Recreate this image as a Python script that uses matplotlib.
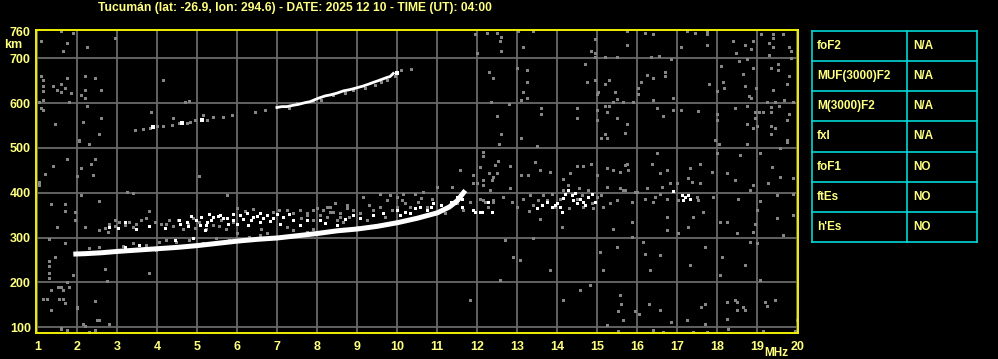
import numpy as np
import matplotlib.pyplot as plt

# Ionogram - Tucuman, 2025-12-10 04:00 UT
title = 'Tucumán (lat: -26.9, lon: 294.6) - DATE: 2025 12 10 - TIME (UT): 04:00'
freq_ticks = list(range(1, 21))
height_ticks = [100, 200, 300, 400, 500, 600, 700, 760]

# main O trace (freq MHz, virtual height km)
o_trace = [(1.9, 263), (2.2, 264), (2.6, 266), (3.0, 269), (3.5, 272), (4.0, 275),
           (4.5, 278), (5.0, 282), (5.5, 287), (6.0, 292), (6.5, 296), (7.0, 299),
           (7.5, 304), (8.0, 309), (8.5, 315), (9.0, 319), (9.5, 325), (10.0, 333),
           (10.5, 343), (11.0, 355), (11.3, 368), (11.5, 382), (11.7, 405)]

# second hop trace, bright part
hop2_white = [(6.99, 590), (7.11, 592), (7.24, 592), (7.4, 595), (7.53, 597), (7.7, 601),
              (7.82, 603), (7.95, 608), (8.07, 612), (8.2, 616), (8.32, 618), (8.49, 622),
              (8.65, 627), (8.82, 630), (8.99, 634), (9.15, 638), (9.28, 642), (9.4, 646),
              (9.53, 650), (9.65, 654), (9.74, 657), (9.82, 659), (9.9, 666)]
# second hop, faint dots
hop2_gray = [(3.45, 540), (3.65, 542), (3.82, 545), (3.99, 549), (4.15, 549), (4.36, 552),
             (4.4, 566), (4.53, 555), (4.74, 556), (4.82, 558), (4.95, 562), (5.24, 563),
             (5.15, 573), (5.4, 568), (5.65, 569), (5.86, 573), (4.7, 603), (4.78, 605),
             (6.45, 581), (6.7, 584), (7.49, 599), (7.9, 604), (8.4, 619), (8.9, 628),
             (9.6, 648), (9.95, 660), (10.1, 674), (10.35, 677), (3.84, 581), (4.14, 651),
             (7.3, 590), (8.1, 607), (8.7, 623), (9.2, 634), (9.45, 641), (9.75, 652)]
hop2_spots = [(3.9, 547), (4.61, 555), (5.11, 562), (10.0, 667)]

# spread echoes around the F trace
spread_white = [(2.79, 324), (3.01, 322), (3.18, 335), (3.47, 318), (4.55, 339), (4.76, 325),
                (4.97, 339), (5.1, 345), (5.22, 328), (5.35, 339), (5.51, 348), (5.64, 343),
                (5.76, 331), (5.89, 340), (5.18, 317), (3.18, 279), (3.55, 283), (4.43, 294),
                (4.89, 298), (5.47, 287), (5.76, 290), (6.07, 350), (6.24, 354), (6.4, 346),
                (6.57, 355), (6.74, 350), (6.9, 343), (7.07, 331), (6.57, 335), (6.28, 328),
                (7.4, 339), (7.57, 328), (8.07, 339), (8.49, 328), (8.9, 350), (5.4, 346),
                (5.57, 350), (5.74, 343), (5.24, 335), (5.07, 328), (4.74, 335), (4.57, 331),
                (9.07, 343), (9.4, 350), (9.65, 354), (9.99, 361), (10.07, 350), (10.32, 354),
                (10.57, 369), (10.74, 361), (10.9, 376), (11.24, 369), (11.45, 376), (11.61, 369),
                (11.49, 391), (11.61, 387), (12.11, 357), (11.95, 357), (11.9, 361), (12.07, 357),
                (12.28, 380), (12.36, 357), (13.49, 365), (13.61, 372), (13.74, 380), (13.86, 369),
                (13.95, 372), (14.07, 369), (14.11, 357), (14.2, 398), (14.28, 406), (14.36, 395),
                (14.4, 383), (14.49, 376), (14.57, 387), (14.65, 380), (14.78, 391), (14.86, 398),
                (14.95, 380), (16.9, 404), (17.11, 395), (17.2, 391), (17.15, 383), (17.32, 387),
                (17.28, 395), (6.15, 342), (6.5, 348), (6.82, 337), (7.15, 345), (7.3, 352),
                (5.9, 352), (6.0, 330), (6.35, 340), (6.65, 344), (7.0, 352), (5.3, 352),
                (4.85, 347), (7.75, 340), (8.2, 333), (8.7, 342), (3.8, 325), (4.2, 322),
                (10.2, 358), (10.45, 365), (10.85, 368), (11.1, 372), (11.35, 380), (14.0, 378),
                (14.15, 388), (14.45, 400), (14.7, 372)]
spread_gray = [(2.68, 322), (2.8, 331), (2.93, 325), (3.05, 335), (3.18, 328), (3.3, 335),
               (3.39, 324), (3.47, 331), (2.76, 313), (3.72, 343), (3.93, 335), (4.1, 331),
               (4.22, 331), (4.39, 325), (4.51, 339), (4.64, 320), (4.76, 331), (4.89, 343),
               (5.05, 335), (5.22, 320), (5.39, 328), (5.6, 339), (5.72, 320), (5.89, 335),
               (2.3, 276), (2.55, 279), (3.14, 281), (3.39, 287), (3.72, 283), (4.05, 290),
               (4.22, 294), (4.47, 290), (4.8, 294), (5.14, 287), (5.47, 298), (5.8, 294),
               (3.97, 272), (5.99, 365), (6.4, 363), (6.9, 357), (7.24, 361), (7.4, 354),
               (7.74, 350), (7.9, 339), (8.24, 346), (8.32, 357), (8.57, 354), (8.74, 365),
               (8.9, 361), (8.65, 335), (8.99, 324), (7.4, 317), (7.74, 313), (6.74, 309),
               (6.57, 305), (5.99, 309), (7.24, 324), (8.32, 369), (8.45, 376), (7.99, 365),
               (7.57, 361), (7.74, 354), (7.9, 361), (8.07, 350), (8.24, 369), (8.4, 357),
               (8.57, 346), (8.74, 372), (8.9, 361), (9.07, 354), (9.24, 339), (9.4, 361),
               (9.57, 369), (9.74, 384), (9.86, 361), (9.99, 369), (10.11, 384), (10.2, 376),
               (10.32, 369), (10.45, 398), (10.53, 380), (10.65, 402), (10.74, 369), (10.86, 387),
               (10.99, 413), (11.07, 361), (11.2, 354), (11.36, 413), (11.49, 376), (11.65, 361),
               (11.82, 380), (11.9, 439), (11.99, 421), (12.15, 383), (12.28, 369), (12.36, 428),
               (12.4, 383), (12.49, 443), (12.07, 458), (11.57, 450), (9.57, 398), (9.82, 395),
               (10.15, 398), (9.15, 391), (11.9, 421), (12.15, 417), (12.32, 406), (12.07, 387),
               (12.2, 380), (12.4, 380), (12.65, 391), (12.82, 410), (12.86, 380), (12.99, 369),
               (13.15, 387), (13.32, 395), (13.4, 372), (13.53, 383), (13.74, 383), (13.86, 398),
               (13.95, 369), (14.07, 387), (14.15, 406), (14.28, 417), (14.36, 398), (14.49, 387),
               (14.61, 395), (14.65, 369), (14.78, 406), (14.86, 376), (14.99, 391), (15.15, 369),
               (15.32, 376), (15.49, 383), (15.7, 406), (15.86, 380), (15.99, 402), (17.03, 383),
               (17.49, 391), (17.53, 383), (17.89, 391), (16.57, 398), (16.74, 387), (16.45, 391),
               (16.4, 380), (16.2, 387), (15.95, 402), (15.86, 380), (15.65, 406), (16.24, 410),
               (16.61, 413), (16.82, 421), (16.99, 421), (17.28, 432), (17.36, 424), (17.57, 421),
               (4.3, 338), (4.95, 322), (5.55, 326), (6.2, 360), (6.6, 320), (7.05, 362),
               (7.6, 344), (8.15, 362), (8.8, 345), (3.6, 338), (2.95, 340), (6.3, 301),
               (7.9, 318), (8.5, 340), (9.3, 372), (9.7, 345), (10.0, 390), (10.6, 388),
               (13.3, 360), (13.65, 395), (14.3, 365), (14.55, 410), (14.9, 365), (15.1, 395)]

# scattered interference dots
noise = [(11.95, 753), (12.24, 756), (12.49, 756), (12.59, 747), (12.57, 738), (12.6, 717),
         (11.99, 712), (13.03, 760), (13.39, 761), (13.14, 725), (14.95, 743), (14.85, 717),
         (14.95, 712), (14.95, 703), (15.74, 761), (15.74, 730), (16.2, 756), (16.39, 753),
         (17.24, 761), (17.45, 756), (17.74, 761), (17.74, 753), (17.74, 730), (17.09, 725),
         (16.55, 706), (16.35, 703), (16.84, 698), (15.49, 703), (15.2, 703), (18.39, 738),
         (18.47, 712), (18.7, 730), (18.89, 739), (18.84, 721), (19.09, 753), (19.39, 753),
         (19.39, 745), (19.64, 753), (19.3, 734), (19.4, 726), (19.8, 725), (19.84, 717),
         (19.84, 700), (19.3, 708), (18.74, 699), (18.55, 693), (18.1, 683), (18.64, 665),
         (18.89, 678), (19.53, 687), (19.53, 674), (19.34, 678), (19.8, 661), (19.74, 643),
         (19.39, 630), (18.98, 633), (18.7, 639), (18.18, 633), (18.14, 647), (17.79, 643),
         (17.99, 626), (18.79, 615), (18.85, 611), (19.68, 607), (19.89, 602), (19.24, 602),
         (19.45, 602), (19.34, 592), (19.54, 593), (18.74, 594), (18.45, 589), (18.94, 580),
         (19.05, 580), (19.14, 580), (19.34, 580), (19.8, 576), (19.74, 563), (18.94, 566),
         (18.74, 554), (18.89, 544), (19.45, 544), (19.34, 549), (19.34, 531), (19.74, 517),
         (18.99, 549), (17.94, 518), (18.04, 509), (17.99, 575), (17.99, 563), (17.53, 583),
         (17.09, 585), (16.89, 585), (16.64, 572), (16.49, 589), (16.89, 611), (16.39, 607),
         (16.03, 633), (16.03, 620), (16.09, 647), (16.39, 656), (16.24, 663), (16.7, 669),
         (16.7, 660), (15.49, 610), (15.45, 625), (15.3, 651), (15.2, 643), (14.95, 652),
         (15.03, 625), (14.99, 620), (15.39, 602), (15.64, 602), (15.89, 602), (15.2, 594),
         (15.3, 594), (14.99, 585), (15.24, 580), (15.49, 566), (14.99, 563), (15.74, 553),
         (15.7, 533), (15.2, 531), (15.24, 522), (15.09, 522), (14.49, 589), (14.49, 566),
         (14.7, 687), (14.74, 648), (13.24, 674), (13.24, 648), (13.14, 625), (13.24, 611),
         (13.1, 607), (12.34, 602), (12.8, 597), (13.59, 589), (13.59, 575), (12.49, 572),
         (12.59, 531), (13.09, 522), (13.49, 505), (12.54, 508), (12.3, 669), (12.39, 656),
         (12.99, 678),
         (1.6, 761), (1.89, 756), (1.1, 739), (1.75, 734), (1.64, 717), (2.24, 725),
         (2.95, 744), (1.1, 661), (1.14, 652), (1.14, 638), (1.14, 626), (1.14, 607),
         (1.39, 638), (1.49, 628), (1.6, 642), (1.6, 624), (1.7, 633), (1.75, 656),
         (1.85, 622), (1.79, 602), (1.04, 602), (1.1, 589), (1.15, 585), (2.1, 619),
         (2.19, 661), (2.19, 630), (2.19, 611), (2.45, 656), (2.6, 630), (2.24, 594),
         (1.45, 554), (2.14, 558), (2.6, 566), (2.54, 531), (2.04, 518), (2.29, 508),
         (3.85, 580), (4.14, 652), (4.7, 602), (4.79, 605),
         (2.04, 515), (2.29, 508), (1.74, 476), (1.39, 459), (2.1, 456), (2.35, 465),
         (2.43, 476), (2.4, 439), (1.2, 442), (1.04, 424), (1.04, 417), (1.99, 437),
         (2.1, 395), (3.25, 402), (3.39, 400), (1.35, 374), (1.7, 374), (1.7, 360),
         (1.95, 357), (1.95, 339), (2.54, 381), (1.49, 324), (2.2, 324), (2.54, 316),
         (3.8, 359), (5.04, 437), (5.75, 395), (1.3, 296), (1.7, 288), (1.29, 248),
         (1.3, 236), (1.29, 221), (1.29, 209), (1.43, 257), (1.9, 216), (1.74, 201),
         (2.68, 229), (2.74, 203), (3.79, 220), (1.51, 190), (1.6, 190), (1.79, 190),
         (1.35, 184), (1.64, 184), (1.14, 162), (1.25, 162), (1.54, 162), (1.64, 162),
         (1.68, 153), (1.35, 138), (1.99, 143), (2.45, 158), (2.54, 116), (2.14, 108),
         (2.79, 108), (1.6, 97),
         (1.33, 138), (1.98, 144), (2.13, 107), (2.19, 103), (2.5, 116), (2.79, 107),
         (1.59, 98), (1.73, 93), (2.29, 89), (2.44, 93),
         (15.59, 151), (15.53, 137), (15.95, 137), (16.05, 129), (15.64, 116), (15.24, 105),
         (16.3, 151), (16.84, 112), (17.24, 116), (17.59, 144), (17.7, 151), (17.7, 107),
         (18.24, 157), (18.49, 157), (18.65, 144), (18.49, 138), (18.7, 138), (18.24, 119),
         (18.28, 97), (19.2, 157), (19.24, 147), (19.99, 116), (16.39, 93), (16.65, 90),
         (17.4, 90), (17.74, 90), (19.15, 92), (19.95, 92), (15.53, 92),
         (14.14, 160), (14.57, 183), (14.82, 194), (15.14, 227), (15.57, 171), (16.32, 227),
         (17.32, 238), (18.07, 216), (18.69, 238), (19.07, 205), (18.44, 160), (19.44, 160),
         (13.82, 227), (16.57, 138), (12.57, 205), (11.82, 160), (13.07, 250),
         (12.15, 491), (12.14, 482), (12.55, 509), (13.49, 504), (12.45, 462), (12.53, 471),
         (12.82, 459), (12.3, 443), (12.4, 436), (12.15, 428), (13.09, 439), (13.28, 439),
         (13.57, 450), (13.45, 469), (13.82, 447), (14.15, 430), (14.32, 443), (14.49, 459),
         (14.65, 459), (14.84, 465), (14.99, 439), (15.24, 456), (15.4, 450), (15.7, 462),
         (15.78, 450), (15.57, 410), (15.95, 402), (15.24, 413),
         (14.11, 324), (13.39, 298), (12.7, 294), (13.57, 341), (15.4, 320), (15.86, 302),
         (15.49, 279), (12.9, 257), (15.07, 268),
         (18.45, 428), (18.82, 406), (18.9, 417), (19.28, 421), (19.57, 436), (19.9, 432),
         (18.53, 387), (19.07, 382), (19.49, 395), (19.9, 398), (18.99, 361), (19.49, 343),
         (19.9, 350), (18.95, 331), (18.9, 313), (18.07, 335), (18.24, 335), (18.49, 309),
         (18.82, 290), (18.99, 287), (19.65, 305), (15.86, 335), (16.15, 290), (16.2, 264),
         (16.57, 261), (16.74, 317), (16.74, 346), (17.03, 309), (17.28, 324), (17.4, 346),
         (17.65, 357), (17.7, 279), (18.11, 257), (16.49, 488), (16.36, 464), (15.74, 464),
         (15.57, 447), (16.57, 443), (16.74, 450), (17.32, 454), (17.57, 465), (17.86, 447),
         (18.24, 443), (18.57, 484), (18.74, 508), (19.07, 488), (19.36, 458), (19.57, 499),
         (19.74, 514), (17.99, 488)]

# parameter table
param_names = ['foF2', 'MUF(3000)F2', 'M(3000)F2', 'fxI', 'foF1', 'ftEs', "h'Es"]
param_values = ['N/A', 'N/A', 'N/A', 'N/A', 'NO', 'NO', 'NO']

yellow = '#ffff80'
cyan = '#00d8d8'
grid_gray = '#6a6a6a'
dot_gray = '#858585'

plt.rcParams['font.family'] = ['Liberation Sans', 'DejaVu Sans']
fig = plt.figure(figsize=(9.98, 3.59), dpi=100, facecolor='black')
ax = fig.add_axes([0.0358, 0.0724, 0.7638, 0.8454], facecolor='black')

for f in freq_ticks:
    ax.axvline(f, color=grid_gray, lw=1.3, zorder=1)
for h in height_ticks[:-1]:
    ax.axhline(h, color=grid_gray, lw=1.3, zorder=1)

dot = dict(marker='s', ls='none', ms=2.16, mew=0)
nf, nh = np.array(noise).T
ax.plot(nf, nh, color=dot_gray, **dot, zorder=2)
sf, sh = np.array(spread_gray).T
ax.plot(sf, sh, color=dot_gray, **dot, zorder=2)
gf, gh = np.array(hop2_gray).T
ax.plot(gf, gh, color=dot_gray, **dot, zorder=2)

wf, wh = np.array(spread_white).T
ax.plot(wf, wh, color='white', **dot, zorder=3)
hf, hh = np.array(hop2_white).T
ax.plot(hf, hh, color='white', lw=2.0, zorder=3)
pf, ph = np.array(hop2_spots).T
ax.plot(pf, ph, color='white', marker='s', ls='none', ms=3.5, mew=0, zorder=3)
of, oh = np.array(o_trace).T
ax.plot(of, oh, color='white', lw=3.6, solid_capstyle='butt', zorder=4)

ax.set_xlim(0.96, 20.02)
ax.set_ylim(87, 764)
ax.set_xticks(freq_ticks)
ax.set_yticks(height_ticks)
ax.tick_params(length=0, colors=yellow, labelsize=9)
ax.tick_params(axis='x', pad=6)
ax.tick_params(axis='y', pad=3.5)
for lab in ax.get_xticklabels() + ax.get_yticklabels():
    lab.set_fontweight('bold')
for s in ax.spines.values():
    s.set_color('#f0f000')
    s.set_linewidth(1.4)

fig.text(0.296, 0.978, title, color=yellow, fontsize=8.7, fontweight='bold',
         ha='center', va='center')
fig.text(0.0135, 0.875, 'km', color=yellow, fontsize=9, fontweight='bold',
         ha='center', va='center')
fig.text(0.778, 0.016, 'MHz', color=yellow, fontsize=8.5, fontweight='bold',
         ha='center', va='center')

# table
tx = fig.add_axes([0.8139, 0.3251, 0.1653, 0.5894], facecolor='black')
tx.set_xlim(0, 1)
tx.set_ylim(len(param_names), 0)
tx.axis('off')
n = len(param_names)
for i in range(n + 1):
    tx.plot([0, 1], [i, i], color=cyan, lw=1.2, clip_on=False)
for xv in [0, 0.576, 1]:
    tx.plot([xv, xv], [0, n], color=cyan, lw=1.2, clip_on=False)
for i, (name, val) in enumerate(zip(param_names, param_values)):
    tx.text(0.03, i + 0.5, name, color=yellow, fontsize=8.5, fontweight='bold', va='center')
    tx.text(0.61, i + 0.5, val, color=yellow, fontsize=8.5, fontweight='bold', va='center')

fig.savefig('out.png', dpi=100, facecolor='black')
